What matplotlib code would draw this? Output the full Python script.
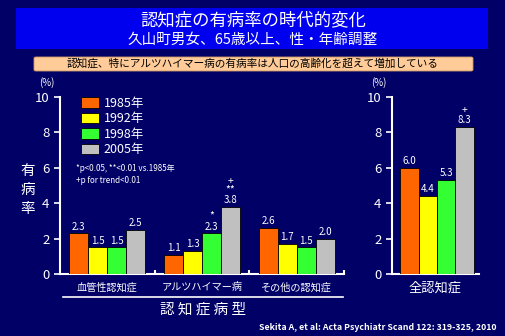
import numpy as np
import matplotlib.pyplot as plt
from matplotlib.patches import Rectangle, FancyBboxPatch

plt.rcParams['font.family'] = ['Noto Sans CJK JP', 'DejaVu Sans']

years = ["1985年", "1992年", "1998年", "2005年"]
colors = ["#ff6600", "#ffff00", "#33ff33", "#c0c0c0"]
types = ["血管性認知症", "アルツハイマー病", "その他の認知症"]
rates = [[2.3, 1.1, 2.6],    # 1985
         [1.5, 1.3, 1.7],    # 1992
         [1.5, 2.3, 1.5],    # 1998
         [2.5, 3.8, 2.0]]    # 2005
marks = [["", "", ""], ["", "", ""], ["", "*", ""], ["", "+\n**", ""]]
total = [6.0, 4.4, 5.3, 8.3]
total_marks = ["", "", "", "+"]

bg = "#000066"
W, H = 506, 336
fig = plt.figure(figsize=(W / 100, H / 100), dpi=100, facecolor=bg)

def fx(px): return px / W
def fy(py): return 1 - py / H

# title box
fig.patches.append(Rectangle((fx(16), fy(49)), fx(472), 41 / H, transform=fig.transFigure,
                             facecolor="#0000ee", edgecolor="none"))
fig.text(0.5, fy(20), "認知症の有病率の時代的変化", color="white", fontsize=12.5,
         ha="center", va="center")
fig.text(0.5, fy(40), "久山町男女、65歳以上、性・年齢調整", color="white", fontsize=10.5,
         ha="center", va="center")
fig.patches.append(FancyBboxPatch((fx(34), fy(71)), fx(439), 14 / H, transform=fig.transFigure,
                                  boxstyle="round,pad=0,rounding_size=0.004",
                                  facecolor="#ffcc99", edgecolor="#cc9966", lw=0.6))
fig.text(0.5, fy(63.5), "認知症、特にアルツハイマー病の有病率は人口の高齢化を超えて増加している",
         color="black", fontsize=7.7, ha="center", va="center")

def style(ax):
    ax.set_facecolor(bg)
    ax.set_ylim(0, 10)
    ax.set_yticks([0, 2, 4, 6, 8, 10])
    for s in ["top", "right"]:
        ax.spines[s].set_visible(False)
    for s in ["left", "bottom"]:
        ax.spines[s].set_color("white")
        ax.spines[s].set_linewidth(1.5)
    ax.tick_params(axis="y", colors="white", labelsize=9.5, length=4, width=1.2)

bw = 0.2
offs = (np.arange(4) - 1.5) * bw

# left: by type
ax = fig.add_axes([fx(60), fy(274), fx(284), 177 / H])
style(ax)
x = np.arange(len(types))
for i in range(4):
    ax.bar(x + offs[i], rates[i], bw, color=colors[i], edgecolor="black", lw=0.6,
           label=years[i], zorder=3)
    for j in range(len(types)):
        v = rates[i][j]
        ax.text(x[j] + offs[i], v + 0.1, f"{v:.1f}", color="white", fontsize=7,
                ha="center", va="bottom")
        if marks[i][j]:
            ax.text(x[j] + offs[i], v + 0.7, marks[i][j], color="white", fontsize=7.5,
                    ha="center", va="bottom", linespacing=0.75)
ax.set_xlim(-0.5, 2.5)
ax.set_xticks([0.5, 1.5, 2.5])
ax.set_xticklabels([])
ax.tick_params(axis="x", direction="in", colors="white", length=3, width=1.5)
for j, t in enumerate(types):
    ax.text(x[j], -0.75, t, color="white", fontsize=7.3, ha="center", va="center")
ax.legend(loc="upper left", bbox_to_anchor=(0.035, 1.065), frameon=False, fontsize=9,
          labelcolor="white", handlelength=1.4, handleheight=0.9, labelspacing=0.2,
          handletextpad=0.4)
ax.text(0.055, 0.595, "*p<0.05, **<0.01 vs.1985年", transform=ax.transAxes,
        color="white", fontsize=5.8, va="center")
ax.text(0.055, 0.53, "+p for trend<0.01", transform=ax.transAxes,
        color="white", fontsize=5.8, va="center")

fig.add_artist(plt.Line2D([fx(63), fx(343)], [fy(297), fy(297)], color="white", lw=1.2))
fig.text(fx(203), fy(310), "認 知 症 病 型", color="white", fontsize=10.5, ha="center", va="center")
fig.text(fx(28), fy(190), "有\n病\n率", color="white", fontsize=10.5, ha="center", va="center",
         linespacing=1.5)
fig.text(fx(47), fy(83), "(%)", color="white", fontsize=7, ha="center", va="center")
fig.text(fx(379), fy(83), "(%)", color="white", fontsize=7, ha="center", va="center")

# right: all dementia
ax2 = fig.add_axes([fx(392), fy(274), fx(87), 177 / H])
style(ax2)
for i in range(4):
    ax2.bar(offs[i], total[i], bw, color=colors[i], edgecolor="black", lw=0.6, zorder=3)
    ax2.text(offs[i], total[i] + 0.1, f"{total[i]:.1f}", color="white", fontsize=7,
             ha="center", va="bottom")
    if total_marks[i]:
        ax2.text(offs[i], total[i] + 0.7, total_marks[i], color="white", fontsize=7.5,
                 ha="center", va="bottom")
ax2.set_xlim(-0.49, 0.46)
ax2.set_xticks([])
fig.text(fx(435), fy(288), "全認知症", color="white", fontsize=9.5, ha="center", va="center")

fig.text(fx(497), fy(327), "Sekita A, et al: Acta Psychiatr Scand 122: 319-325, 2010",
         color="white", fontsize=6.3, style="italic", weight="bold", ha="right", va="center")

fig.savefig("out.png", dpi=100, facecolor=bg)
